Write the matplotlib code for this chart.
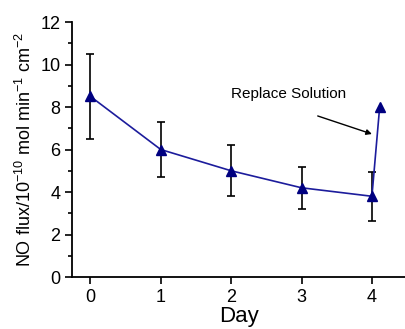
import matplotlib.pyplot as plt
from matplotlib.ticker import MultipleLocator

plt.rcParams['font.family'] = ['Liberation Sans', 'DejaVu Sans']
plt.rcParams['mathtext.fontset'] = 'custom'
plt.rcParams['mathtext.rm'] = 'Liberation Sans'
plt.rcParams['mathtext.it'] = 'Liberation Sans'
plt.rcParams['mathtext.default'] = 'regular'

days = [0, 1, 2, 3, 4, 4.11]
flux = [8.5, 6.0, 5.0, 4.2, 3.8, 8.0]
err_days = [0, 1, 2, 3, 4]
err_flux = [8.5, 6.0, 5.0, 4.2, 3.8]
err = [2.0, 1.3, 1.2, 1.0, 1.15]

fig = plt.figure(figsize=(4.05, 3.29), dpi=100)
ax = fig.add_axes([0.178, 0.158, 0.822, 0.775])

ax.errorbar(err_days, err_flux, yerr=err, fmt='none', ecolor='black',
            elinewidth=1.2, capsize=3, capthick=1.2, zorder=2)
ax.plot(days, flux, color='#1c1c9c', lw=1.2, marker='^', ms=7,
        markerfacecolor='#000080', markeredgecolor='#000080', zorder=3)

# arrow and label for the solution change
ax.annotate('', xy=(4.0, 6.73), xytext=(3.23, 7.58),
            arrowprops=dict(arrowstyle='-|>', color='black', lw=1,
                            mutation_scale=8, shrinkA=0, shrinkB=0))
ax.text(2.82, 8.6, 'Replace Solution', fontsize=11, ha='center', va='center')

ax.set_xlim(-0.26, 4.47)
ax.set_ylim(0, 12)
ax.set_xticks([0, 1, 2, 3, 4])
ax.yaxis.set_major_locator(MultipleLocator(2))
ax.yaxis.set_minor_locator(MultipleLocator(1))
ax.spines['top'].set_visible(False)
ax.spines['right'].set_visible(False)
for s in ['left', 'bottom']:
    ax.spines[s].set_linewidth(1.3)
ax.tick_params(axis='both', which='major', direction='out', length=5,
               width=1.2, labelsize=13)
ax.tick_params(axis='y', which='minor', direction='out', length=3, width=1.2)

ax.set_xlabel('Day', fontsize=16, labelpad=0)
ax.set_ylabel(r'NO flux/10$^{-10}$ mol min$^{-1}$ cm$^{-2}$', fontsize=13,
              labelpad=4)

fig.savefig('out.png', dpi=100)
